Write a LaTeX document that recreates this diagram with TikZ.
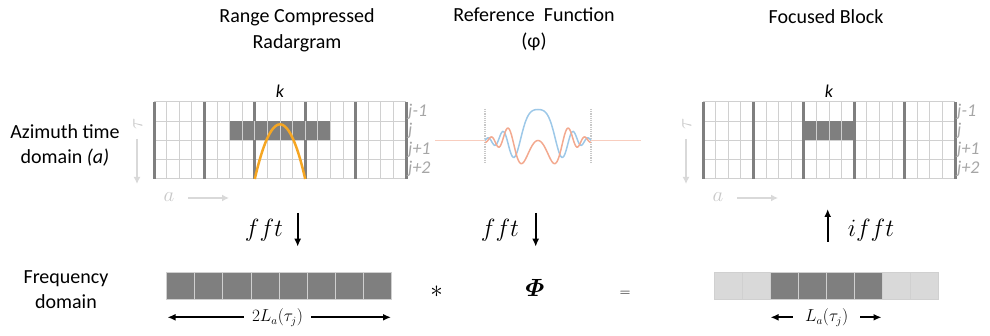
\documentclass[tikz,border=0pt]{standalone}
\usepackage{amsmath,amssymb}
\usepackage{fontspec}
\setmainfont{Carlito}
\usetikzlibrary{arrows.meta,positioning}
\definecolor{Dark}{HTML}{7F7F7F}
\definecolor{Thin}{HTML}{D0D0D0}
\definecolor{Pale}{HTML}{D9D9D9}
\definecolor{Lbl}{HTML}{A6A6A6}
\definecolor{Axis}{HTML}{C8C8C8}
\definecolor{Orange}{HTML}{F5A623}
\definecolor{Blue}{HTML}{9DC8E8}
\definecolor{Salmon}{HTML}{F3A98F}
\definecolor{Base}{HTML}{F8CDBE}
\begin{document}
\begin{tikzpicture}[x=1pt,y=-1pt,
    title/.style={font=\fontsize{20}{26}\selectfont,align=center},
    side/.style={font=\fontsize{20}{25}\selectfont,align=center},
    jlbl/.style={font=\fontsize{18}{18}\selectfont\itshape,text=Lbl,anchor=west,inner sep=1pt},
    klbl/.style={font=\fontsize{18}{18}\selectfont\itshape,inner sep=0pt},
    axlbl/.style={font=\fontsize{22}{22}\selectfont,text=Axis,inner sep=0pt},
    op/.style={font=\fontsize{25}{25}\selectfont,inner sep=0pt},
    len/.style={font=\fontsize{16}{16}\selectfont,inner ysep=0pt,inner xsep=8pt},
    gridthin/.style={Thin,line width=1pt},
    gridthick/.style={Dark,line width=3pt},
    cell/.style={draw=Thin,line width=1pt},
    arr/.style={-{Latex[length=8pt,width=7pt]},line width=1.6pt},
    axarr/.style={-{Latex[length=7pt,width=7pt]},line width=2.5pt,Pale}
  ]
  \useasboundingbox (0,0) rectangle (990,336);
  \node[title] (tRadar) at (297,30) {Range Compressed\\Radargram};
  \node[title] (tRef) at (534,29) {Reference\ \ Function\\(φ)};
  \node[title] (tFocus) at (826,17) {Focused Block};
  \node[side] (azim) at (65,145) {Azimuth time\\domain \textit{(a)}};
  \node[side] (freq) at (66,289.5) {Frequency\\domain};
  \foreach \gx/\g/\b/\e/\ib/\ie in {154/L/6/14/7/13,703/R/8/12/9/11}{
    \foreach \r in {0,...,4}
      \draw[gridthin] (\gx,{102+\r*19.25}) -- ++(252,0);
    \foreach \c in {1,2,3,5,6,7,9,10,11,13,14,15,17,18,19}
      \draw[gridthin] ({\gx+\c*12.6},102) -- ++(0,77);
    \foreach \c in {0,4,...,20}
      \draw[gridthick] ({\gx+\c*12.6},102) -- ++(0,77);
    \fill[Dark] ({\gx+\b*12.6},121.25) rectangle ({\gx+\e*12.6},140.5);
    \foreach \c in {\ib,...,\ie}
      \draw[gridthin] ({\gx+\c*12.6},121.25) -- ++(0,19.25);
    \node[klbl] (k\g) at ({\gx+126},91.7) {k};
    \foreach \r/\t in {0/j-1,1/j,2/j+1,3/j+2}
      \node[jlbl] (j\r\g) at ({\gx+253},{111.6+\r*19.25}) {\t};
    \node[axlbl,rotate=90] (tau\g) at ({\gx-16},124) {$\tau$};
    \coordinate (taus\g) at ({\gx-17},139);
    \coordinate (taue\g) at ({\gx-17},184);
    \draw[axarr] (taus\g) -- (taue\g);
    \node[axlbl] (a\g) at ({\gx+15},197) {$a$};
    \coordinate (as\g) at ({\gx+34},198);
    \coordinate (ae\g) at ({\gx+75},198);
    \draw[axarr] (as\g) -- (ae\g);
  }
  \draw[Orange,line width=2.5pt] (254.8,179) parabola bend (280,124.3) (305.2,179);
  \draw[densely dotted,Axis,line width=1.2pt] (485,109) -- (485,164);
  \draw[densely dotted,Axis,line width=1.2pt] (591,109) -- (591,164);
  \draw[Base,line width=1pt] (435,140.5) -- (485,140.5);
  \draw[Base,line width=1pt] (591,140.5) -- (641,140.5);
  \draw[Blue,line width=1.5pt] plot[domain=-1:1,samples=121,smooth]
    ({538+53*\x},{140.5-31*exp(-\x*\x/0.36)*cos(deg(14*\x*\x))});
  \draw[Salmon,line width=1.5pt] plot[domain=-1:1,samples=121,smooth]
    ({538+53*\x},{140.5+31*exp(-\x*\x/0.36)*sin(deg(14*\x*\x))});
  \node[op] (fftL) at (264,230) {$fft$};
  \coordinate (fftLa) at (297.7,213);
  \coordinate (fftLb) at (297.7,246.7);
  \draw[arr] (fftLa) -- (fftLb);
  \node[op] (fftM) at (500,230) {$fft$};
  \coordinate (fftMa) at (535.7,213);
  \coordinate (fftMb) at (535.7,246.7);
  \draw[arr] (fftMa) -- (fftMb);
  \node[op] (ifftR) at (871,230) {$ifft$};
  \coordinate (ifftRa) at (827.7,241.7);
  \coordinate (ifftRb) at (827.7,209);
  \draw[arr] (ifftRa) -- (ifftRb);
  \foreach \i in {0,...,7}
    \draw[cell,fill=Dark] ({166.7+\i*28.125},272.7) rectangle ++(28.125,27.3);
  \foreach \i/\c in {0/Pale,1/Pale,2/Dark,3/Dark,4/Dark,5/Dark,6/Pale,7/Pale}
    \draw[cell,fill=\c] ({714+\i*28.05},272.7) rectangle ++(28.05,27.3);
  \coordinate (barLw) at (167.5,286.4);
  \coordinate (barLe) at (391,286.4);
  \coordinate (blkRw) at (770.5,286.4);
  \coordinate (blkRe) at (881.5,286.4);
  \node[font=\fontsize{26}{26}\selectfont] (conv) at (436.7,291.7) {$\ast$};
  \node[op,font=\fontsize{26}{26}\selectfont] (phi) at (535,288.3) {$\boldsymbol{\varPhi}$};
  \node[font=\fontsize{15}{15}\selectfont] (eq) at (625,294) {$=$};
  \node[len] (lenL) at (277.5,317.3) {$2L_a(\tau_j)$};
  \draw[arr] (lenL.west) -- (lenL.west -| barLw);
  \draw[arr] (lenL.east) -- (lenL.east -| barLe);
  \node[len,inner xsep=12pt] (lenR) at (826.7,317.3) {$L_a(\tau_j)$};
  \draw[arr] (lenR.west) -- (lenR.west -| blkRw);
  \draw[arr] (lenR.east) -- (lenR.east -| blkRe);
\end{tikzpicture}
\end{document}
